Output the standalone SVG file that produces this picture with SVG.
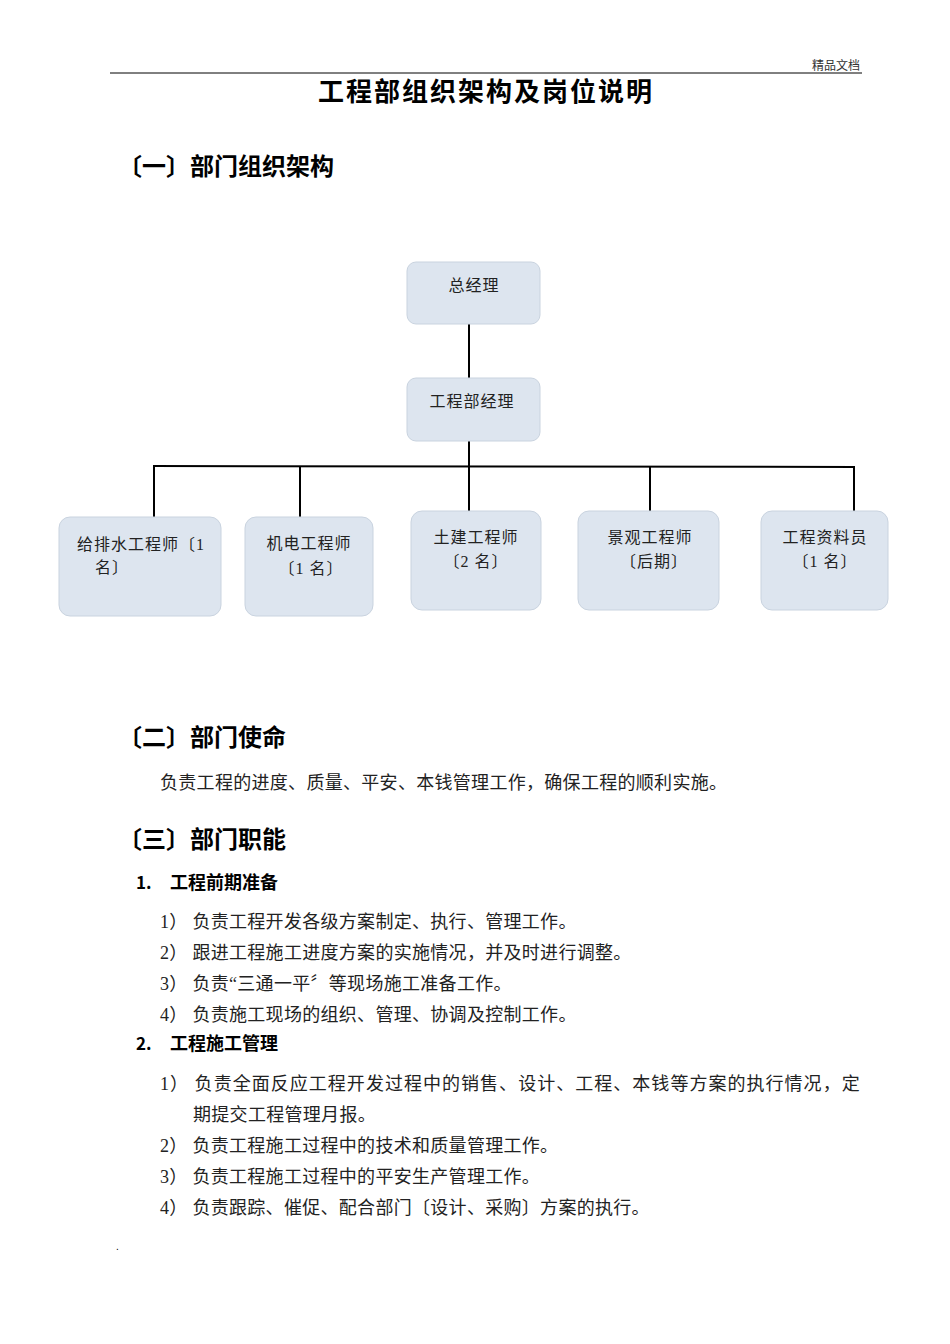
<svg xmlns="http://www.w3.org/2000/svg" width="950" height="1344" viewBox="0 0 950 1344">
<style>
.b{fill:#dde5ef;stroke:#c9d3df;stroke-width:1}
.t{font-family:"Liberation Serif","Noto Sans CJK SC",serif;font-size:16px;fill:#222;letter-spacing:1px}
.h{font-family:"Noto Sans CJK SC",sans-serif;font-weight:bold;fill:#000}
.p{font-family:"Liberation Serif","Noto Sans CJK SC",serif;font-size:18px;fill:#222;letter-spacing:0.3px}
.c line{stroke:#000;stroke-width:2}
</style>
<rect width="950" height="1344" fill="#fff"/>
<text x="860" y="70" text-anchor="end" style="font-family:'Noto Sans CJK SC',sans-serif;font-size:12px" fill="#333">精品文档</text>
<line x1="110" y1="73" x2="862" y2="73" stroke="#000" stroke-width="1"/>
<text x="486" y="101" text-anchor="middle" class="h" font-size="26" letter-spacing="2">工程部组织架构及岗位说明</text>
<text x="118" y="175" class="h" font-size="24">〔一〕部门组织架构</text>
<g class="c">
<line x1="469" y1="324" x2="469" y2="378"/>
<line x1="469" y1="441" x2="469" y2="511"/>
<line x1="153" y1="466" x2="855" y2="467"/>
<line x1="154" y1="466" x2="154" y2="517"/>
<line x1="300" y1="466" x2="300" y2="517" stroke-width="1"/>
<line x1="650" y1="466" x2="650" y2="511"/>
<line x1="854" y1="466" x2="854" y2="511"/>
</g>
<g id="n1"><rect class="b" x="407" y="262" width="133" height="62" rx="9"/><text class="t" x="474" y="291" text-anchor="middle">总经理</text></g>
<g id="n2"><rect class="b" x="407" y="378" width="133" height="63" rx="9"/><text class="t" x="472" y="407" text-anchor="middle">工程部经理</text></g>
<g id="n3"><rect class="b" x="59" y="517" width="162" height="99" rx="11"/><text class="t" x="77" y="550">给排水工程师〔1</text><text class="t" x="95" y="573">名〕</text></g>
<g id="n4"><rect class="b" x="245" y="517" width="128" height="99" rx="11"/><text class="t" x="309" y="549" text-anchor="middle">机电工程师</text><text class="t" x="311" y="574" text-anchor="middle">〔1 名〕</text></g>
<g id="n5"><rect class="b" x="411" y="511" width="130" height="99" rx="11"/><text class="t" x="476" y="543" text-anchor="middle">土建工程师</text><text class="t" x="476" y="567" text-anchor="middle">〔2 名〕</text></g>
<g id="n6"><rect class="b" x="578" y="511" width="141" height="99" rx="11"/><text class="t" x="650" y="543" text-anchor="middle">景观工程师</text><text class="t" x="654" y="567" text-anchor="middle">〔后期〕</text></g>
<g id="n7"><rect class="b" x="761" y="511" width="127" height="99" rx="11"/><text class="t" x="825" y="543" text-anchor="middle">工程资料员</text><text class="t" x="825" y="567" text-anchor="middle">〔1 名〕</text></g>
<text x="118" y="746" class="h" font-size="24">〔二〕部门使命</text>
<text x="160" y="789" class="p">负责工程的进度、质量、平安、本钱管理工作，确保工程的顺利实施。</text>
<text x="118" y="848" class="h" font-size="24">〔三〕部门职能</text>
<text x="136" y="889" class="h" font-size="17">1.</text><text x="170" y="889" class="h" font-size="18">工程前期准备</text>
<g class="p">
<text x="160" y="928">1）  负责工程开发各级方案制定、执行、管理工作。</text>
<text x="160" y="959">2）  跟进工程施工进度方案的实施情况，并及时进行调整。</text>
<text x="160" y="990">3）  负责“三通一平〞等现场施工准备工作。</text>
<text x="160" y="1021">4）  负责施工现场的组织、管理、协调及控制工作。</text>
</g>
<text x="136" y="1050" class="h" font-size="17">2.</text><text x="170" y="1050" class="h" font-size="18">工程施工管理</text>
<g class="p">
<text x="160" y="1090" textLength="700">1）  负责全面反应工程开发过程中的销售、设计、工程、本钱等方案的执行情况，定</text>
<text x="193" y="1121">期提交工程管理月报。</text>
<text x="160" y="1152">2）  负责工程施工过程中的技术和质量管理工作。</text>
<text x="160" y="1183">3）  负责工程施工过程中的平安生产管理工作。</text>
<text x="160" y="1214">4）  负责跟踪、催促、配合部门〔设计、采购〕方案的执行。</text>
</g>
<text x="116" y="1250" style="font-family:'Liberation Sans',sans-serif;font-size:10px">.</text>
</svg>
